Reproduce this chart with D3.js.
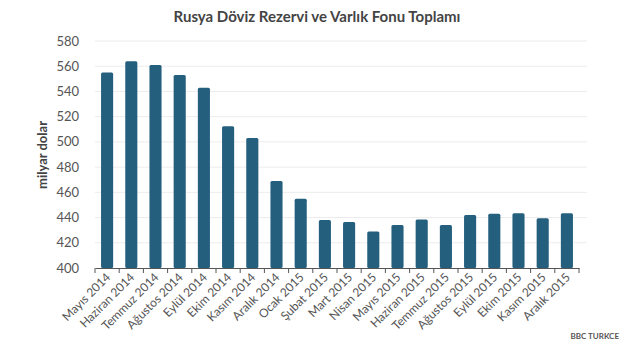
<!DOCTYPE html>
<html>
<head>
<meta charset="utf-8">
<script src="https://cdn.jsdelivr.net/npm/d3@7"></script>
<style>
  body { margin: 0; background: #fff; }
  text { font-family: Lato, "Open Sans", sans-serif; }
</style>
</head>
<body>
<div id="chart"></div>
<script>
// months and reserve totals (billion USD)
const months = ["Mayıs 2014", "Haziran 2014", "Temmuz 2014", "Ağustos 2014", "Eylül 2014",
  "Ekim 2014", "Kasım 2014", "Aralık 2014", "Ocak 2015", "Şubat 2015", "Mart 2015",
  "Nisan 2015", "Mayıs 2015", "Haziran 2015", "Temmuz 2015", "Ağustos 2015",
  "Eylül 2015", "Ekim 2015", "Kasım 2015", "Aralık 2015"];
const reserves = [555, 564, 561, 553, 543, 512.5, 503, 469, 455, 438, 436.5,
  429, 434, 438.5, 434, 442, 443, 443.5, 439.5, 443.5];
const yTicks = [400, 420, 440, 460, 480, 500, 520, 540, 560, 580];

const width = 624, height = 351,
      margin = { top: 41, right: 45, bottom: 83, left: 95 };
const w = width - margin.left - margin.right,
      h = height - margin.top - margin.bottom;

const svg = d3.select("#chart").append("svg")
    .attr("width", width)
    .attr("height", height);

svg.append("text")
    .attr("x", 317).attr("y", 22)
    .attr("text-anchor", "middle")
    .style("font-size", "15px").style("font-weight", "bold")
    .style("fill", "#444")
    .text("Rusya Döviz Rezervi ve Varlık Fonu Toplamı");

const g = svg.append("g").attr("transform", `translate(${margin.left},${margin.top})`);

const x = d3.scaleBand().domain(months).range([0, w]).paddingInner(0.5).paddingOuter(0.25);
const y = d3.scaleLinear().domain([400, 580]).range([h, 0]);

// grid
g.selectAll(".grid").data(yTicks.slice(1)).join("line")
    .attr("x1", 0).attr("x2", w + 8)
    .attr("y1", d => y(d)).attr("y2", d => y(d))
    .attr("stroke", "#ececec");

// y labels
g.selectAll(".ylab").data(yTicks).join("text")
    .attr("x", -16).attr("y", d => y(d)).attr("dy", "0.35em")
    .attr("text-anchor", "end")
    .style("font-size", "13px").style("fill", "#555")
    .text(d => d);

svg.append("text")
    .attr("transform", "translate(47,155) rotate(-90)")
    .attr("text-anchor", "middle")
    .style("font-size", "13px").style("font-weight", "bold").style("fill", "#444")
    .text("milyar dolar");

// bars
g.selectAll(".bar").data(reserves).join("rect")
    .attr("x", (d, i) => x(months[i]))
    .attr("width", x.bandwidth())
    .attr("y", d => y(d))
    .attr("height", d => y(400) - y(d))
    .attr("rx", 1.5)
    .attr("fill", "#245f7e");

// x axis
const xAxis = g.append("g")
    .attr("transform", `translate(0,${h})`)
    .call(d3.axisBottom(x).tickSize(0).tickFormat(""));
xAxis.select(".domain").attr("stroke", "#555");

g.selectAll(".tick2").data(d3.range(months.length + 1)).join("line")
    .attr("x1", i => i * w / months.length).attr("x2", i => i * w / months.length)
    .attr("y1", h).attr("y2", h + 5)
    .attr("stroke", "#555");

g.selectAll(".xlab").data(months).join("text")
    .attr("transform", d => `translate(${x(d) + x.bandwidth() / 2 + 4},${h + 10}) rotate(-45)`)
    .attr("text-anchor", "end")
    .style("font-size", "12px").style("fill", "#555")
    .text(d => d);

svg.append("text")
    .attr("x", 619).attr("y", 339)
    .attr("text-anchor", "end")
    .style("font-size", "8px").style("font-weight", "bold").style("fill", "#555")
    .text("BBC TURKCE");
</script>
</body>
</html>
